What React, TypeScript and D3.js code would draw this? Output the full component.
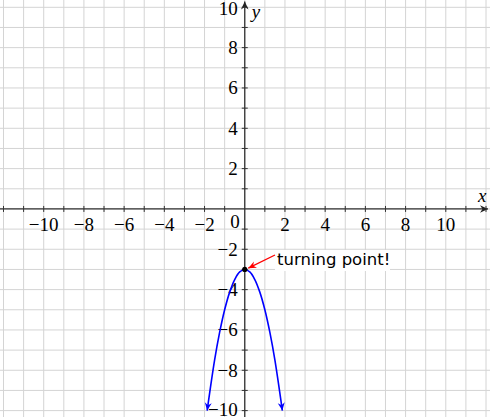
import React from "react";
import * as d3 from "d3";

const W = 490;
const H = 417;

// tick labels on the axes
const xTickValues = [-10, -8, -6, -4, -2, 2, 4, 6, 8, 10];
const yTickValues = [-10, -8, -6, -4, -2, 2, 4, 6, 8, 10];
// grid / minor ticks at every integer
const gridX = d3.range(-12, 13);
const gridY = d3.range(-10, 11);

// points of the plotted curve
const curveX = [-1.87, -1.5, -1.25, -1, -0.75, -0.5, -0.25, 0, 0.25, 0.5, 0.75, 1, 1.25, 1.5, 1.87];
const curveY = [-10, -7.5, -6.125, -5, -4.125, -3.5, -3.125, -3, -3.125, -3.5, -4.125, -5, -6.125, -7.5, -10];

const turningPoint = { x: 0, y: -3, label: "turning point!" };

export default function App() {
  const x = d3.scaleLinear().domain([-12, 12]).range([3.5, 486]);
  const y = d3.scaleLinear().domain([-10, 10]).range([410.6, 7.3]);

  const pts: [number, number][] = curveX.map((v, i) => [v, curveY[i]]);
  const line = d3
    .line<[number, number]>()
    .x((d) => x(d[0]))
    .y((d) => y(d[1]))
    .curve(d3.curveCatmullRom);

  const x0 = x(0);
  const y0 = y(0);
  const serif = "'Liberation Serif', 'Times New Roman', serif";
  const fs = 19;

  const tp = { px: x(turningPoint.x), py: y(turningPoint.y) };
  const labelX = 277;
  const labelY = 265;

  const yLabelY = (v: number) => {
    const base = y(v) + 6.3;
    return Math.min(Math.max(base, 14.5), H - 1);
  };

  return (
    <div style={{ position: "fixed", left: 0, top: 0, width: W, height: H, background: "#fff" }}>
      <svg width={W} height={H} viewBox={`0 0 ${W} ${H}`} style={{ display: "block" }}>
        <defs>
          <marker id="ax" viewBox="-10 -6 12 12" refX="0" refY="0" markerWidth="12" markerHeight="12" markerUnits="userSpaceOnUse" orient="auto">
            <path d="M0,0 L-8,-3.8 L-5.5,0 L-8,3.8 Z" fill="#222" />
          </marker>
          <marker id="blue" viewBox="-10 -6 12 12" refX="0" refY="0" markerWidth="12" markerHeight="12" markerUnits="userSpaceOnUse" orient="auto-start-reverse">
            <path d="M0,0 L-8,-3.5 L-5.5,0 L-8,3.5 Z" fill="#0000ff" />
          </marker>
          <marker id="red" viewBox="-10 -6 12 12" refX="0" refY="0" markerWidth="12" markerHeight="12" markerUnits="userSpaceOnUse" orient="auto">
            <path d="M0,0 L-8,-3.5 L-5.5,0 L-8,3.5 Z" fill="#ff0000" />
          </marker>
        </defs>

        {/* grid */}
        <g stroke="#d4d4d4" strokeWidth={1}>
          {gridX.map((v) => (
            <line key={"gx" + v} x1={x(v)} x2={x(v)} y1={0} y2={H} />
          ))}
          {gridY.map((v) => (
            <line key={"gy" + v} x1={0} x2={W} y1={y(v)} y2={y(v)} />
          ))}
        </g>

        {/* axes */}
        <line x1={0} x2={488} y1={y0} y2={y0} stroke="#333" strokeWidth={1.3} markerEnd="url(#ax)" />
        <line x1={x0} x2={x0} y1={H} y2={1.5} stroke="#333" strokeWidth={1.3} markerEnd="url(#ax)" />

        {/* minor ticks */}
        <g stroke="#333" strokeWidth={1}>
          {gridX.filter((v) => v !== 0).map((v) => (
            <line key={"tx" + v} x1={x(v)} x2={x(v)} y1={y0 - 3} y2={y0 + 3} />
          ))}
          {gridY.filter((v) => v !== 0).map((v) => (
            <line key={"ty" + v} x1={x0 - 3} x2={x0 + 3} y1={y(v)} y2={y(v)} />
          ))}
        </g>

        {/* tick labels */}
        <g fontFamily={serif} fontSize={fs} fill="#000">
          {xTickValues.map((v) => (
            <text key={"lx" + v} x={x(v)} y={y0 + 22} textAnchor="middle">
              {v < 0 ? "\u2212" + Math.abs(v) : String(v)}
            </text>
          ))}
          {yTickValues.map((v) => (
            <text key={"ly" + v} x={x0 - 7} y={yLabelY(v)} textAnchor="end">
              {v < 0 ? "\u2212" + Math.abs(v) : String(v)}
            </text>
          ))}
          <text x={x0 - 5} y={y0 + 19} textAnchor="end">0</text>
          <text x={478} y={y0 - 7} fontStyle="italic">x</text>
          <text x={x0 + 7} y={18} fontStyle="italic">y</text>
        </g>

        {/* curve */}
        <path d={line(pts) || ""} fill="none" stroke="#0000ff" strokeWidth={1.6} markerStart="url(#blue)" markerEnd="url(#blue)" />

        {/* turning point */}
        <circle cx={tp.px} cy={tp.py} r={2.6} fill="#000" />
        <rect x={labelX - 2} y={250} width={115} height={21} fill="#fff" />
        <line x1={labelX - 2} y1={255} x2={tp.px + 3.5} y2={tp.py - 1.3} stroke="#ff0000" strokeWidth={1.3} markerEnd="url(#red)" />
        <text x={labelX} y={labelY} fontFamily="'DejaVu Sans', sans-serif" fontSize={16.5} fill="#000">
          {turningPoint.label}
        </text>
      </svg>
    </div>
  );
}
